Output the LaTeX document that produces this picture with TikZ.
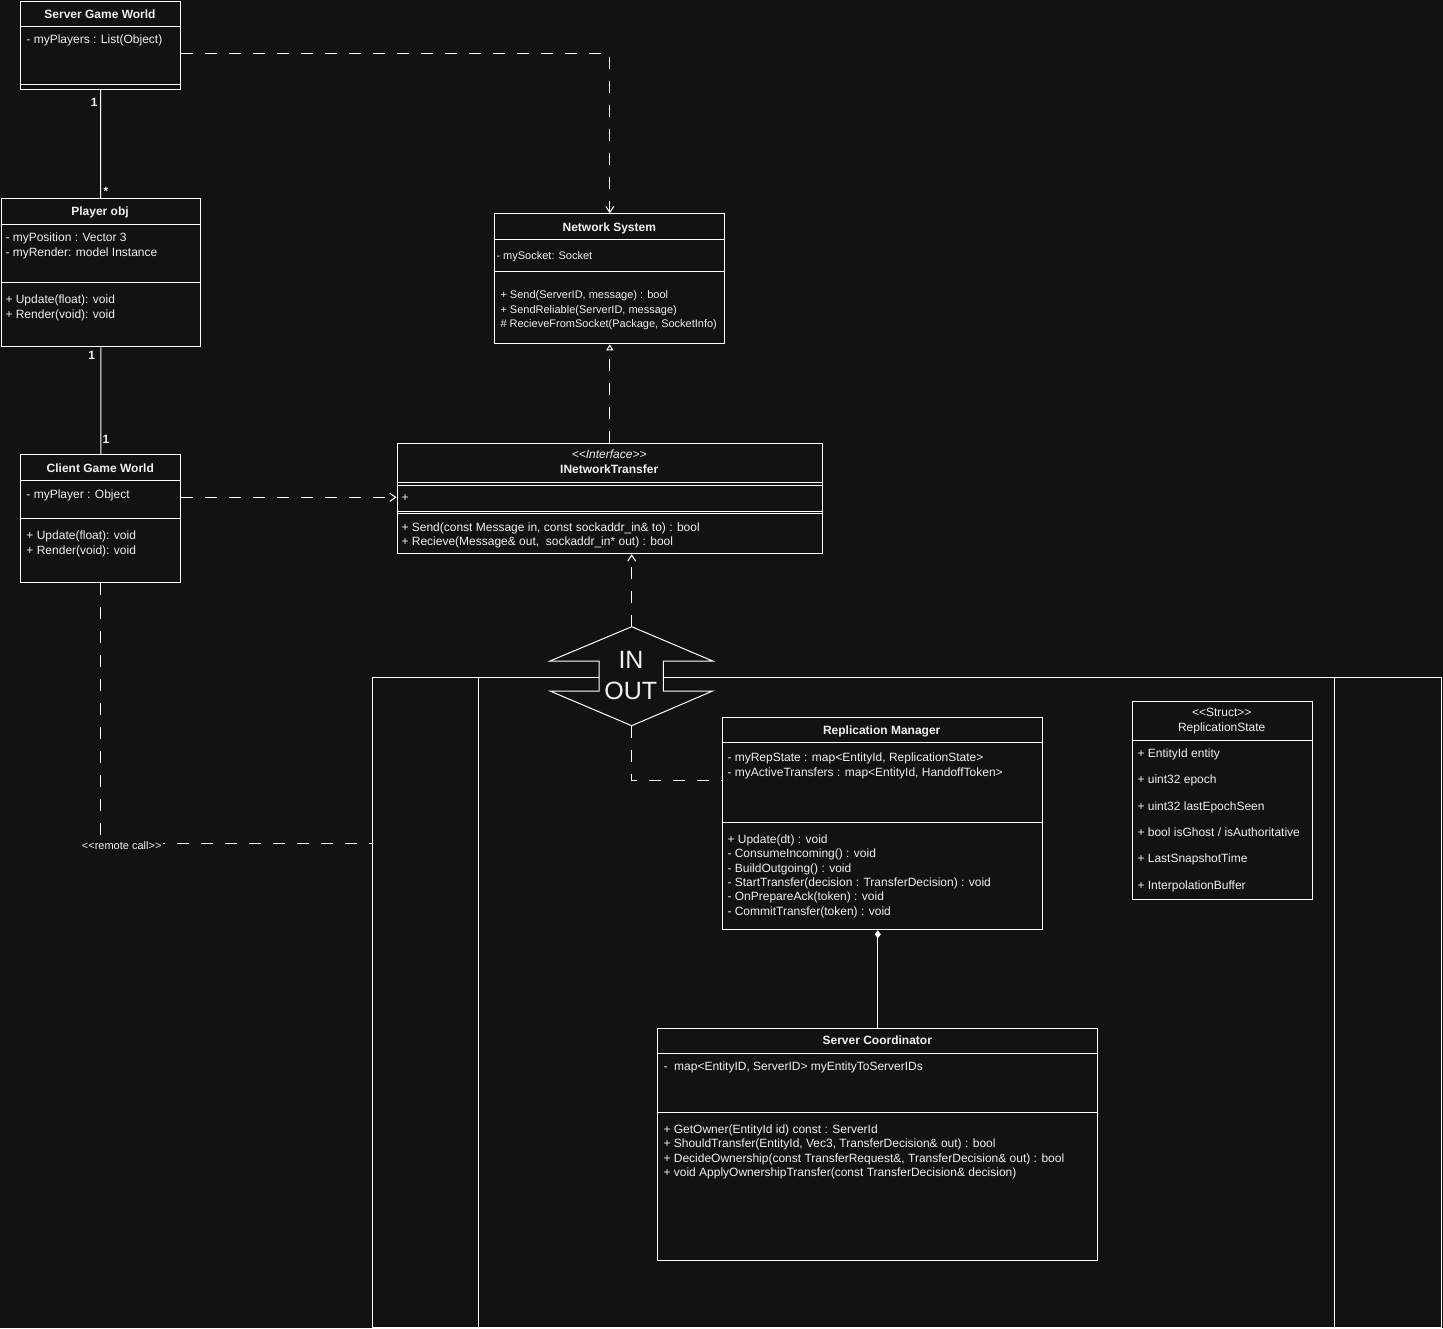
\documentclass[tikz,border=0pt]{standalone}
\usepackage{fontspec}
\setmainfont{Liberation Sans}[Ligatures=TeXOff]
\usetikzlibrary{arrows.meta}
\definecolor{bg}{RGB}{18,18,18}
\definecolor{fg}{RGB}{240,240,240}
\begin{document}
\begin{tikzpicture}[x=1pt,y=-1pt, line width=1pt,
  font=\fontsize{12}{14.4}\selectfont, text=fg,
  box/.style={draw=white, fill=bg, inner sep=0pt, anchor=north west},
  sepline/.style={draw=white},
  txt/.style={inner sep=0pt, anchor=base west},
  smalltxt/.style={inner sep=0pt, anchor=base west, font=\fontsize{11}{13.2}\selectfont},
  ttl/.style={inner sep=0pt, anchor=base, font=\fontsize{12}{14.4}\selectfont\bfseries},
  ctr/.style={inner sep=0pt, anchor=base},
  dsh/.style={draw=white, dash pattern=on 12pt off 12pt},
  solidline/.style={draw=white},
  mult/.style={inner sep=0pt, font=\fontsize{12}{14}\selectfont\bfseries},
  barb/.style={-{Straight Barb[length=6pt,width=8pt,line width=1pt]}},
  realize/.style={-{Triangle[open,length=6pt,width=7pt,line width=1pt]}},
  compo/.style={{Diamond[length=8pt,width=6pt]}-},
  lane/.style={draw=white, fill=bg, inner sep=0pt, anchor=north west}
]
\useasboundingbox (0,0) rectangle (1443,1328);
\fill[bg] (0,0) rectangle (1443,1328);

% ---------- pool / lanes ----------
\node[lane, minimum width=1069.5pt, minimum height=649.5pt] (pool) at (371.5,677) {};
\draw[sepline] (478.5,677) -- (478.5,1326.5);
\draw[sepline] (1334.5,677) -- (1334.5,1326.5);

% ---------- IN / OUT shape ----------
\draw[white, fill=bg] (631.7,626.7) -- (712.7,661) -- (663.3,661) -- (663.3,691)
  -- (712.7,691) -- (631.7,725.7) -- (550,691) -- (599,691) -- (599,661)
  -- (550,661) -- cycle;
\node[inner sep=0pt, font=\fontsize{25}{30}\selectfont] (inlbl) at (631,659.5) {IN};
\node[inner sep=0pt, font=\fontsize{25}{30}\selectfont] (outlbl) at (630.8,690.5) {OUT};
\coordinate (iotop) at (631.7,626.7);
\coordinate (iobot) at (631.7,725.7);

% ---------- class boxes ----------
% Server Game World
\node[box, minimum width=160pt, minimum height=88pt] (sgw) at (20,0.5) {};
\draw[sepline] (20,26) -- (180,26);
\draw[sepline] (20,84) -- (180,84);
\node[ttl] at (100,18) {Server Game World};
\node[txt] at (26,43) {- myPlayers : List(Object)};

% Player obj
\node[box, minimum width=199.5pt, minimum height=148pt] (po) at (0.5,198.3) {};
\draw[sepline] (0.5,224.3) -- (200,224.3);
\draw[sepline] (0.5,282.7) -- (200,282.7);
\node[ttl] at (100,215.7) {Player obj};
\node[txt] at (5,241.7) {- myPosition : Vector 3};
\node[txt] at (5,256.7) {- myRender: model Instance};
\node[txt] at (5,303.7) {+ Update(float): void};
\node[txt] at (5,318.7) {+ Render(void): void};

% Client Game World
\node[box, minimum width=160pt, minimum height=128pt] (cgw) at (20.3,454.3) {};
\draw[sepline] (20.3,480.3) -- (180.3,480.3);
\draw[sepline] (20.3,518.7) -- (180.3,518.7);
\node[ttl] at (100.3,472) {Client Game World};
\node[txt] at (26,498) {- myPlayer : Object};
\node[txt] at (26,539.7) {+ Update(float): void};
\node[txt] at (26,554.7) {+ Render(void): void};

% Network System
\node[box, minimum width=230pt, minimum height=130pt] (ns) at (494.3,213.3) {};
\draw[sepline] (494.3,239.3) -- (724.3,239.3);
\draw[sepline] (494.3,271.3) -- (724.3,271.3);
\node[ttl] at (609.3,231) {Network System};
\node[smalltxt] at (496,259) {- mySocket: Socket};
\node[smalltxt] at (500,298.5) {+ Send(ServerID, message) : bool};
\node[smalltxt] at (500,313) {+ SendReliable(ServerID, message)};
\node[smalltxt] at (500,327.5) {\# RecieveFromSocket(Package, SocketInfo)};

% INetworkTransfer
\node[box, minimum width=425pt, minimum height=110pt] (inet) at (396.7,443.3) {};
\draw[sepline] (396.7,482.5) -- (821.7,482.5);
\draw[sepline] (396.7,485) -- (821.7,485);
\draw[sepline] (396.7,511) -- (821.7,511);
\draw[sepline] (396.7,513.5) -- (821.7,513.5);
\node[ctr, font=\fontsize{12}{14.4}\selectfont\itshape] at (609.2,458) {<<Interface>>};
\node[ttl] at (609.2,473) {INetworkTransfer};
\node[txt] at (401,501.7) {+};
\node[txt] at (401,531) {+ Send(const Message in, const sockaddr\_in\& to) : bool};
\node[txt] at (401,545.5) {+ Recieve(Message\& out, \ sockaddr\_in* out) : bool};

% Replication Manager
\node[box, minimum width=320pt, minimum height=212.6pt] (rm) at (721.7,716.7) {};
\draw[sepline] (721.7,742.7) -- (1041.7,742.7);
\draw[sepline] (721.7,822) -- (1041.7,822);
\node[ttl] at (881.7,734.7) {Replication Manager};
\node[txt] at (727,761.3) {- myRepState : map<EntityId, ReplicationState>};
\node[txt] at (727,776) {- myActiveTransfers : map<EntityId, HandoffToken>};
\node[txt] at (727,843.3) {+ Update(dt) : void};
\node[txt] at (727,857.7) {- ConsumeIncoming() : void};
\node[txt] at (727,872.1) {- BuildOutgoing() : void};
\node[txt] at (727,886.5) {- StartTransfer(decision : TransferDecision) : void};
\node[txt] at (727,900.9) {- OnPrepareAck(token) : void};
\node[txt] at (727,915.3) {- CommitTransfer(token) : void};

% ReplicationState
\node[box, minimum width=180pt, minimum height=197.7pt] (rs) at (1131.7,701) {};
\draw[sepline] (1131.7,740.7) -- (1311.7,740.7);
\node[ctr] at (1221.7,716.7) {<<Struct>>};
\node[ctr] at (1221.7,731.7) {ReplicationState};
\node[txt] at (1137,757.3) {+ EntityId entity};
\node[txt] at (1137,783.7) {+ uint32 epoch};
\node[txt] at (1137,810.1) {+ uint32 lastEpochSeen};
\node[txt] at (1137,836.5) {+ bool isGhost / isAuthoritative};
\node[txt] at (1137,862.9) {+ LastSnapshotTime};
\node[txt] at (1137,889.3) {+ InterpolationBuffer};

% Server Coordinator
\node[box, minimum width=440pt, minimum height=232.7pt] (sc) at (657.3,1027.7) {};
\draw[sepline] (657.3,1053.7) -- (1097.3,1053.7);
\draw[sepline] (657.3,1112.3) -- (1097.3,1112.3);
\node[ttl] at (877.3,1044.7) {Server Coordinator};
\node[txt] at (663,1070.7) {- \ map<EntityID, ServerID> myEntityToServerIDs};
\node[txt] at (663,1133.3) {+ GetOwner(EntityId id) const : ServerId};
\node[txt] at (663,1147.7) {+ ShouldTransfer(EntityId, Vec3, TransferDecision\& out) : bool};
\node[txt] at (663,1162.1) {+ DecideOwnership(const TransferRequest\&, TransferDecision\& out) : bool};
\node[txt] at (663,1176.5) {+ void ApplyOwnershipTransfer(const TransferDecision\& decision)};

% ---------- connectors ----------
\coordinate (y53) at (0,53.3);
\coordinate (y497) at (0,497.3);
\coordinate (y780) at (0,780);
\coordinate (y843) at (0,843.3);

% Server Game World -- Player obj
\draw[solidline] (sgw.south) -- (po.north);
\node[mult] at (94.3,102.7) {1};
\node[mult] at (106,191.5) {*};
% Player obj -- Client Game World
\draw[solidline] (po.south) -- (cgw.north);
\node[mult] at (91.7,355) {1};
\node[mult] at (106,439.3) {1};

% Server Game World -> Network System
\draw[dsh, barb] (sgw.east |- y53) -| (ns.north);
% INetworkTransfer realizes Network System
\draw[dsh, realize] (inet.north -| ns.south) -- (ns.south);
% Client Game World -> INetworkTransfer
\draw[dsh, barb] (cgw.east |- y497) -- (inet.west |- y497);
% IN/OUT -> INetworkTransfer
\draw[dsh, barb] (iotop) -- (iotop |- inet.south);
% IN/OUT -- Replication Manager
\draw[dsh] (iobot) |- (rm.west |- y780);
% Client Game World -- pool (remote call)
\draw[dsh] (cgw.south) |- (pool.west |- y843);
\node[inner sep=2pt, fill=bg, font=\fontsize{11}{13}\selectfont] (rclbl) at (121.7,845.3) {<<remote call>>};
% Replication Manager <>-- Server Coordinator
\draw[solidline, compo] (rm.south -| sc.north) -- (sc.north);

\end{tikzpicture}
\end{document}
